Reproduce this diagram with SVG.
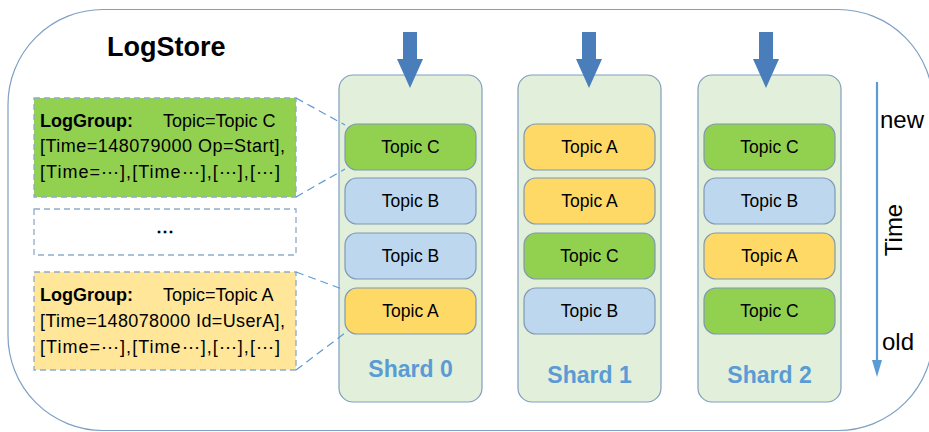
<svg xmlns="http://www.w3.org/2000/svg" width="929" height="432" viewBox="0 0 929 432">
  <style>
    .frame { fill: #ffffff; stroke: #7f9fc4; stroke-width: 1.2; }
    .title { font-family: "Liberation Sans", Arial, sans-serif; font-weight: bold; font-size: 27px; fill: #000000; }
    .group { stroke: #8eaacb; stroke-width: 1.3; stroke-dasharray: 6 4; }
    .gtext { font-family: "Liberation Sans", Arial, sans-serif; font-size: 18px; fill: #000000; }
    .bold { font-weight: bold; }
    .shard { fill: #e2efda; stroke: #7f9fc0; stroke-width: 1.2; }
    .topic { stroke: #7f98b4; stroke-width: 1.2; }
    .tc { fill: #92d050; }
    .tb { fill: #bdd7ee; }
    .ta { fill: #ffd966; }
    .ttext { font-family: "Liberation Sans", Arial, sans-serif; font-size: 17.5px; fill: #000000; text-anchor: middle; }
    .slabel { font-family: "Liberation Sans", Arial, sans-serif; font-weight: bold; font-size: 23px; fill: #5b9bd5; text-anchor: middle; }
    .inflow { fill: #4a7ebb; }
    .link { fill: none; stroke: #5b9bd5; stroke-width: 1.2; stroke-dasharray: 8 5; }
    .axis { stroke: #5b9bd5; stroke-width: 2.2; fill: none; }
    .axishead { fill: #5b9bd5; }
    .atext { font-family: "Liberation Sans", Arial, sans-serif; font-size: 24px; fill: #000000; }
  </style>
  <defs>
    <g id="topicBox"><rect width="131" height="46" rx="12"/></g>
  </defs>

  <!-- LogStore frame -->
  <g id="logstore">
    <rect class="frame" x="8" y="9.5" width="925" height="421" rx="95"/>
    <text class="title" x="107" y="56">LogStore</text>
  </g>

  <!-- log groups -->
  <g id="loggroup-c">
    <rect class="group" x="34" y="98" width="262" height="99" fill="#92d050"/>
    <text class="gtext bold" x="40" y="127">LogGroup:</text>
    <text class="gtext" x="163" y="127">Topic=Topic C</text>
    <text class="gtext" x="40" y="152" textLength="245" lengthAdjust="spacing">[Time=148079000 Op=Start],</text>
    <text class="gtext" x="40" y="178" textLength="240" lengthAdjust="spacing">[Time=⋯],[Time⋯],[⋯],[⋯]</text>
  </g>
  <g id="loggroup-more">
    <rect class="group" x="34" y="209" width="262" height="46" fill="#ffffff"/>
    <text class="gtext bold" x="165" y="237" text-anchor="middle">⋯</text>
  </g>
  <g id="loggroup-a">
    <rect class="group" x="34" y="272" width="262" height="98" fill="#ffe699"/>
    <text class="gtext bold" x="40" y="301">LogGroup:</text>
    <text class="gtext" x="163" y="301">Topic=Topic A</text>
    <text class="gtext" x="40" y="327" textLength="245" lengthAdjust="spacing">[Time=148078000 Id=UserA],</text>
    <text class="gtext" x="40" y="353" textLength="240" lengthAdjust="spacing">[Time=⋯],[Time⋯],[⋯],[⋯]</text>
  </g>

  <!-- shards -->
  <g id="shard-0">
    <rect class="shard" x="339" y="75" width="143" height="327" rx="14"/>
    <g class="topic tc" transform="translate(345,124)"><use href="#topicBox"/></g>
    <text class="ttext" x="410.5" y="153">Topic C</text>
    <g class="topic tb" transform="translate(345,178)"><use href="#topicBox"/></g>
    <text class="ttext" x="410.5" y="207">Topic B</text>
    <g class="topic tb" transform="translate(345,233)"><use href="#topicBox"/></g>
    <text class="ttext" x="410.5" y="262">Topic B</text>
    <g class="topic ta" transform="translate(345,288)"><use href="#topicBox"/></g>
    <text class="ttext" x="410.5" y="317">Topic A</text>
    <text class="slabel" x="410.5" y="377">Shard 0</text>
  </g>
  <g id="shard-1">
    <rect class="shard" x="518" y="75" width="143" height="327" rx="14"/>
    <g class="topic ta" transform="translate(524,124)"><use href="#topicBox"/></g>
    <text class="ttext" x="589.5" y="153">Topic A</text>
    <g class="topic ta" transform="translate(524,178)"><use href="#topicBox"/></g>
    <text class="ttext" x="589.5" y="207">Topic A</text>
    <g class="topic tc" transform="translate(524,233)"><use href="#topicBox"/></g>
    <text class="ttext" x="589.5" y="262">Topic C</text>
    <g class="topic tb" transform="translate(524,288)"><use href="#topicBox"/></g>
    <text class="ttext" x="589.5" y="317">Topic B</text>
    <text class="slabel" x="589.5" y="383">Shard 1</text>
  </g>
  <g id="shard-2">
    <rect class="shard" x="698" y="75" width="143" height="327" rx="14"/>
    <g class="topic tc" transform="translate(704,124)"><use href="#topicBox"/></g>
    <text class="ttext" x="769.5" y="153">Topic C</text>
    <g class="topic tb" transform="translate(704,178)"><use href="#topicBox"/></g>
    <text class="ttext" x="769.5" y="207">Topic B</text>
    <g class="topic ta" transform="translate(704,233)"><use href="#topicBox"/></g>
    <text class="ttext" x="769.5" y="262">Topic A</text>
    <g class="topic tc" transform="translate(704,288)"><use href="#topicBox"/></g>
    <text class="ttext" x="769.5" y="317">Topic C</text>
    <text class="slabel" x="769.5" y="383">Shard 2</text>
  </g>

  <!-- write arrows into each shard -->
  <g id="inflow">
    <polygon class="inflow" points="403,32 417,32 417,59 423,59 410,88 397,59 403,59"/>
    <polygon class="inflow" points="582,32 596,32 596,59 602,59 589,88 576,59 582,59"/>
    <polygon class="inflow" points="759,32 773,32 773,59 779,59 766,88 753,59 759,59"/>
  </g>

  <!-- connectors: log groups to their entries in shard 0 -->
  <g id="connectors">
    <line class="link" x1="296" y1="98" x2="345" y2="125"/>
    <line class="link" x1="296" y1="197" x2="345" y2="169"/>
    <line class="link" x1="296" y1="272" x2="345" y2="290"/>
    <line class="link" x1="296" y1="370" x2="345" y2="333"/>
  </g>

  <!-- time axis -->
  <g id="time-axis">
    <line class="axis" x1="877" y1="82" x2="877" y2="362"/>
    <polygon class="axishead" points="872,360 882,360 877,377"/>
    <text class="atext" x="880" y="128">new</text>
    <text class="atext" x="882" y="350">old</text>
    <text class="atext" font-size="22" text-anchor="middle" transform="translate(902,230) rotate(-90)">Time</text>
  </g>
</svg>
